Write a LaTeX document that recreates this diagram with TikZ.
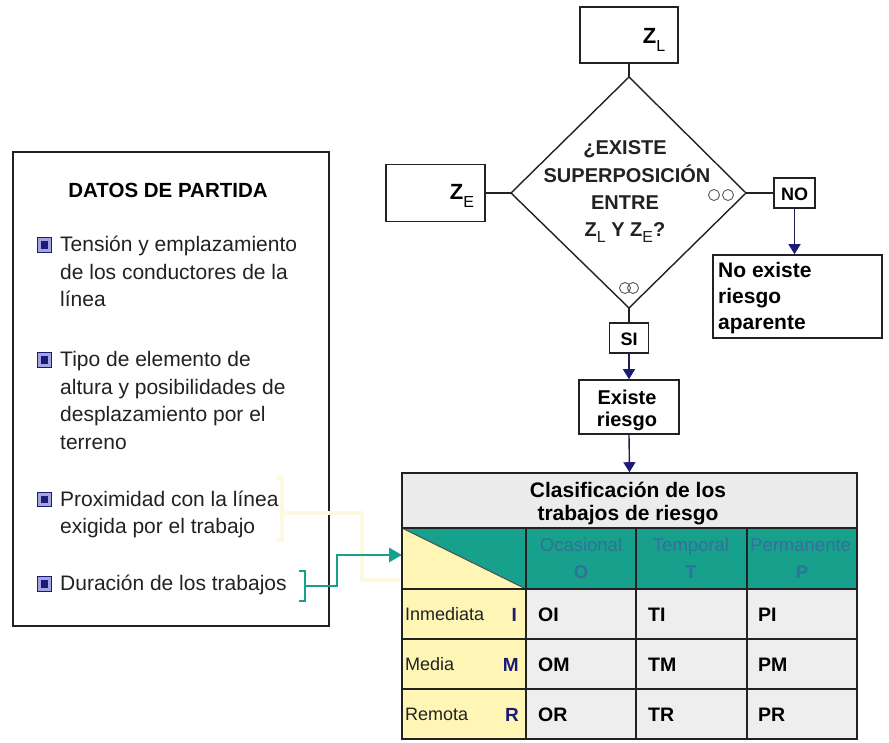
\documentclass[tikz,border=0pt]{standalone}
\usepackage{fontspec}
\setmainfont{Liberation Sans}
\usetikzlibrary{arrows.meta}
\definecolor{ink}{HTML}{222222}
\definecolor{navy}{HTML}{1C1C78}
\definecolor{arrline}{HTML}{1E1E50}
\definecolor{teal2}{HTML}{17A08B}
\definecolor{hdrtxt}{HTML}{33709C}
\definecolor{ltgray}{HTML}{ECECEC}
\definecolor{cellgray}{HTML}{EEEEEE}
\definecolor{pyellow}{HTML}{FFF5B5}
\definecolor{ghost}{HTML}{FDF9E0}
\definecolor{lav}{HTML}{A4A4E0}
\newcommand\zsub[1]{\raisebox{-0.33em}{\fontseries{m}\fontsize{16}{16}\selectfont #1}}
\tikzset{
  fbox/.style={draw=ink, line width=1.6pt, fill=white, inner sep=0pt},
  conn/.style={draw=ink, line width=1.4pt},
  arr/.style={draw=arrline, line width=1.4pt, -{Triangle[width=12pt,length=10pt,color=navy]}},
  body/.style={font=\fontsize{21}{25}\selectfont, anchor=base west, inner sep=0pt, text=ink},
  bold20/.style={font=\bfseries\fontsize{20.5}{24}\selectfont, anchor=base, inner sep=0pt, text=black},
  dtxt/.style={font=\bfseries\fontsize{20}{24}\selectfont, anchor=base, inner sep=0pt, text=ink},
  ztxt/.style={font=\bfseries\fontsize{22}{24}\selectfont, inner sep=0pt, text=black},
  boxtxt/.style={font=\bfseries\fontsize{21}{25}\selectfont, inner sep=0pt, text=black},
  bullet/.style={draw=navy, double=lav, double distance=2.8pt, line width=1pt, fill=navy, minimum size=10.5pt, inner sep=0pt},
  hdr/.style={font=\fontsize{18.5}{22}\selectfont, anchor=base, inner sep=0pt, text=hdrtxt},
  hdrb/.style={font=\bfseries\fontsize{18.5}{22}\selectfont, anchor=base, inner sep=0pt, text=hdrtxt},
  rowl/.style={font=\fontsize{18}{22}\selectfont, anchor=base west, inner sep=0pt, text=ink},
  rowk/.style={font=\bfseries\fontsize{19}{22}\selectfont, anchor=base east, inner sep=0pt, text=navy},
  cell/.style={font=\bfseries\fontsize{19.5}{22}\selectfont, anchor=base west, inner sep=0pt, text=black},
  grid/.style={draw=ink, line width=1.4pt},
  tealline/.style={draw=teal2, line width=2.8pt},
  ghostline/.style={draw=ghost, line width=4pt}
}
\begin{document}
\begin{tikzpicture}[x=1pt,y=-1pt]
\useasboundingbox (0,0) rectangle (889,742);
\fill[white] (0,0) rectangle (889,742);

% ---------- left box ----------
\node[fbox, minimum width=316pt, minimum height=474pt] (dp) at (171,389) {};
\node[bold20] (dpt) at (168,197) {DATOS DE PARTIDA};
\foreach \yy [count=\i] in {245,360,499.5,584}
  \node[bullet] (b\i) at (44.5,\yy) {};
\foreach \txt/\yy [count=\i] in {Tensión y emplazamiento/245, de los conductores de la/272.5, línea/300,
   Tipo de elemento de/360, altura y posibilidades de/387.5, desplazamiento por el/415, terreno/442.5,
   Proximidad con la línea/499.5, exigida por el trabajo/527, Duración de los trabajos/584}
  \node[body] (ln\i) at (60,\yy+6.5) {\txt};

% ghost (faint) connector
\draw[ghostline] (276,478) -- (282,478) -- (282,540) -- (276,540);
\draw[ghostline] (282,513) -- (362,513) -- (362,580) -- (400,580);

% teal connector
\coordinate (brk) at (305,586);
\coordinate (tin) at (402,555);
\draw[tealline] (299,571) -- (305,571) -- (305,601) -- (299,601);
\draw[tealline, -{Triangle[width=14pt,length=13pt]}] (brk) -- ++(32,0) |- (tin);

% ---------- flowchart ----------
\node[fbox, minimum width=98pt, minimum height=56pt] (zl) at (629,35) {};
\node[ztxt] (zlt) at (654,40) {Z\zsub{L}};
\node[fbox, minimum width=99pt, minimum height=57pt] (ze) at (435.5,193) {};
\node[ztxt] (zet) at (462,196) {Z\zsub{E}};

\coordinate (dT) at (629,77);
\coordinate (dL) at (511,193);
\coordinate (dB) at (629,308);
\coordinate (dR) at (746,193);
\draw[conn] (dT) -- (dR) -- (dB) -- (dL) -- cycle;
\node[dtxt] (q1) at (625,154) {¿EXISTE};
\node[dtxt] (q2) at (627,182) {SUPERPOSICIÓN};
\node[dtxt] (q3) at (625,209) {ENTRE};
\node[dtxt] (q4) at (625,236) {Z\zsub{L} Y Z\zsub{E}?};
\draw[ink!75, line width=0.9pt] (714,195) circle[radius=5.5pt] (728,195) circle[radius=5.5pt];
\draw[ink!75, line width=0.9pt] (625,288) circle[radius=5.5pt] (633,288) circle[radius=5.5pt];

\node[fbox, minimum width=41pt, minimum height=30pt] (no) at (794.5,193) {};
\node[boxtxt, font=\bfseries\fontsize{18}{22}\selectfont] (not) at (794.5,194) {NO};
\node[fbox, minimum width=169pt, minimum height=83pt] (noex) at (797.5,296.5) {};
\node[boxtxt, anchor=base west] (ne1) at (718,277) {No existe};
\node[boxtxt, anchor=base west] (ne2) at (718,303) {riesgo};
\node[boxtxt, anchor=base west] (ne3) at (718,329) {aparente};

\node[fbox, minimum width=39pt, minimum height=30pt] (si) at (629,338) {};
\node[boxtxt, font=\bfseries\fontsize{18}{22}\selectfont] (sit) at (629,339) {SI};
\node[fbox, minimum width=100pt, minimum height=54pt] (ex) at (629,407) {};
\node[boxtxt, anchor=base, font=\bfseries\fontsize{20}{24}\selectfont] (ex1) at (627,404) {Existe};
\node[boxtxt, anchor=base, font=\bfseries\fontsize{20}{24}\selectfont] (ex2) at (627,426) {riesgo};

\draw[conn] (zl.south) -- (dT);
\draw[conn] (ze.east) -- (dL);
\draw[conn] (dR) -- (no.west);
\draw[conn] (dB) -- (si.north);
\draw[arr] (no.south) -- (no.south |- noex.north);
\draw[arr] (si.south) -- (ex.north);

% ---------- table ----------
\node[draw=ink, line width=1.6pt, fill=ltgray, minimum width=455pt, minimum height=55pt, inner sep=0pt] (tt) at (629.5,500.5) {};
\draw[arr] (ex.south) -- (tt.north);
\node[boxtxt, anchor=base, font=\bfseries\fontsize{21}{24}\selectfont] (tt1) at (628,497) {Clasificación de los};
\node[boxtxt, anchor=base, font=\bfseries\fontsize{21}{24}\selectfont] (tt2) at (628,520) {trabajos de riesgo};

\fill[teal2] (526,528) rectangle (857,589);
\fill[pyellow] (402,528) rectangle (526,589);
\fill[teal2] (402,528) -- (526,528) -- (526,589) -- cycle;
\draw[ink!80, line width=1pt] (402,528) -- (526,589);
\fill[pyellow] (402,589) rectangle (526,739);
\fill[cellgray] (526,589) rectangle (857,739);

\draw[grid] (402,528) -- (857,528);
\foreach \yy in {589,639,689} \draw[grid] (402,\yy) -- (857,\yy);
\foreach \xx in {526,636,747} \draw[grid] (\xx,528) -- (\xx,739);
\draw[draw=ink, line width=1.6pt] (402,473) rectangle (857,739);

\node[hdr] (h1) at (581,551.5) {Ocasional};
\node[hdr] (h2) at (691,551.5) {Temporal};
\begin{scope}
  \clip (748,529) rectangle (856,588);
  \node[hdr, anchor=base west] (h3) at (750,551.5) {Permanente};
\end{scope}
\node[hdrb] (h1b) at (581,578.5) {O};
\node[hdrb] (h2b) at (691,578.5) {T};
\node[hdrb] (h3b) at (802,578.5) {P};

\node[rowl] (r1) at (405,620.5) {Inmediata};
\node[rowl] (r2) at (405,670.5) {Media};
\node[rowl] (r3) at (405,720.5) {Remota};
\node[rowk] (k1) at (517,621) {I};
\node[rowk] (k2) at (519,671) {M};
\node[rowk] (k3) at (519,721) {R};

\foreach \c/\xx in {O/538,T/648,P/758}{
  \node[cell] (c\c I) at (\xx,621) {\c I};
  \node[cell] (c\c M) at (\xx,671) {\c M};
  \node[cell] (c\c R) at (\xx,721) {\c R};
}
\end{tikzpicture}
\end{document}
